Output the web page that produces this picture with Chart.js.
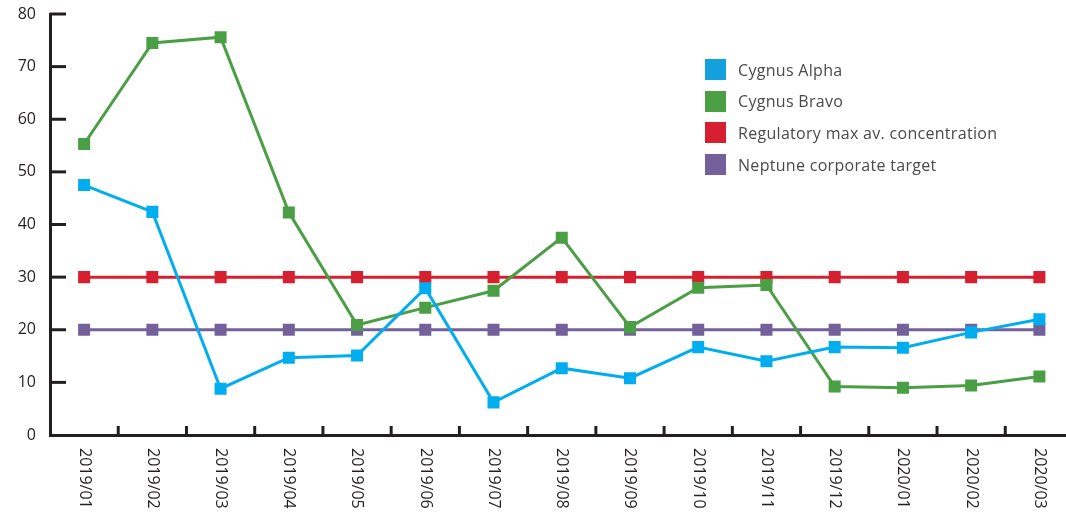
<!DOCTYPE html>
<html>
<head>
<meta charset="utf-8">
<script src="https://cdn.jsdelivr.net/npm/chart.js@4"></script>
<style>
  html, body { margin: 0; padding: 0; background: #ffffff; overflow: hidden; width: 1066px; height: 518px; }
  #wrap { position: relative; width: 1082px; height: 518px; }
  #c { position: absolute; left: 0; top: 0; width: 1082px; height: 518px; }
  #legend { position: absolute; left: 705px; top: 59px; font-family: "Open Sans", sans-serif; font-size: 16px; letter-spacing: 0.3px; color: #4a4a4a; }
  .row { display: flex; align-items: center; height: 21px; margin-bottom: 10.7px; }
  .box { width: 21px; height: 21px; margin-right: 12px; }
</style>
</head>
<body>
<div id="wrap">
  <canvas id="c" width="1082" height="518"></canvas>
  <div id="legend"></div>
</div>
<script>
const categories = ["2019/01","2019/02","2019/03","2019/04","2019/05","2019/06","2019/07","2019/08","2019/09","2019/10","2019/11","2019/12","2020/01","2020/02","2020/03"];
const seriesNames = ["Cygnus Alpha","Cygnus Bravo","Regulatory max av. concentration","Neptune corporate target"];
const cygnusAlpha = [47.5, 42.4, 8.8, 14.7, 15.1, 27.9, 6.2, 12.7, 10.8, 16.7, 14.0, 16.7, 16.6, 19.5, 22.0];
const cygnusBravo = [55.3, 74.5, 75.6, 42.3, 20.9, 24.2, 27.4, 37.5, 20.5, 28.0, 28.5, 9.2, 9.0, 9.4, 11.1];
const regulatoryMax = [30, 30, 30, 30, 30, 30, 30, 30, 30, 30, 30, 30, 30, 30, 30];
const neptuneTarget = [20, 20, 20, 20, 20, 20, 20, 20, 20, 20, 20, 20, 20, 20, 20];
const yTicks = { min: 0, max: 80, step: 10 };
const colors = ["#00AEEF", "#4A9E44", "#D6202F", "#74619B"];
const legendColors = ["#14A0DC", "#4A9E44", "#D6202F", "#74619B"];

const seriesData = [cygnusAlpha, cygnusBravo, regulatoryMax, neptuneTarget];
const axisColor = "#231f20";

const datasets = seriesNames.map((name, i) => ({
  label: name,
  data: seriesData[i],
  borderColor: colors[i],
  backgroundColor: colors[i],
  borderWidth: 3,
  pointStyle: "rect",
  pointRadius: 8.5,
  pointBorderWidth: 0,
  pointBackgroundColor: colors[i],
  tension: 0,
  fill: false
}));

const axisMarks = {
  id: "axisMarks",
  afterDraw(chart) {
    const ctx = chart.ctx;
    const xs = chart.scales.x, ys = chart.scales.y;
    const area = chart.chartArea;
    ctx.save();
    ctx.strokeStyle = axisColor;
    ctx.lineWidth = 3;
    ys.ticks.forEach(t => {
      if (t.value === yTicks.min) return;
      const py = ys.getPixelForValue(t.value);
      ctx.beginPath();
      ctx.moveTo(area.left, py);
      ctx.lineTo(area.left + 16, py);
      ctx.stroke();
    });
    for (let i = 0; i < categories.length - 1; i++) {
      const px = (xs.getPixelForValue(i) + xs.getPixelForValue(i + 1)) / 2;
      ctx.beginPath();
      ctx.moveTo(px, area.bottom);
      ctx.lineTo(px, area.bottom - 9);
      ctx.stroke();
    }
    ctx.fillStyle = axisColor;
    ctx.font = "500 16px 'Open Sans', sans-serif";
    ctx.textAlign = "left";
    ctx.textBaseline = "middle";
    categories.forEach((lab, i) => {
      const px = xs.getPixelForValue(i);
      ctx.save();
      ctx.translate(px, area.bottom + 13);
      ctx.rotate(Math.PI / 2);
      ctx.fillText(lab, 0, 0);
      ctx.restore();
    });
    ctx.restore();
  }
};

new Chart(document.getElementById("c"), {
  type: "line",
  data: { labels: categories, datasets },
  options: {
    responsive: false,
    animation: false,
    layout: { padding: { top: 14, right: 2, left: 0, bottom: 0 } },
    plugins: { legend: { display: false }, tooltip: { enabled: false } },
    scales: {
      x: {
        offset: true,
        grid: { display: true, drawOnChartArea: false, drawTicks: false, offset: true, color: "rgba(0,0,0,0)" },
        border: { display: true, color: axisColor, width: 3 },
        ticks: { display: false },
        afterFit: s => { s.height = 83; s.paddingLeft = 0; s.paddingRight = 0; }
      },
      y: {
        min: yTicks.min,
        max: yTicks.max,
        ticks: { stepSize: yTicks.step, padding: 14, color: axisColor, font: { family: "'Open Sans', sans-serif", size: 16, weight: "500" } },
        grid: { display: true, drawOnChartArea: false, drawTicks: false, color: "rgba(0,0,0,0)" },
        border: { display: true, color: axisColor, width: 3 },
        afterFit: s => { s.width = 50; s.paddingTop = 0; s.paddingBottom = 0; }
      }
    }
  },
  plugins: [axisMarks]
});

const legend = document.getElementById("legend");
seriesNames.forEach((name, i) => {
  const row = document.createElement("div");
  row.className = "row";
  const box = document.createElement("div");
  box.className = "box";
  box.style.background = legendColors[i];
  const txt = document.createElement("span");
  txt.textContent = name;
  row.appendChild(box);
  row.appendChild(txt);
  legend.appendChild(row);
});
</script>
</body>
</html>
